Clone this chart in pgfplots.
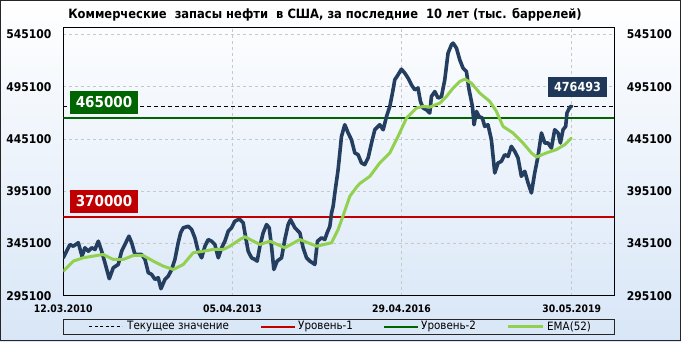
\documentclass[border=0pt]{standalone}
\usepackage{pgfplots}
\pgfplotsset{compat=1.18}
\usepackage{fontspec}
\setmainfont{DejaVu Sans}[FakeStretch=0.9]
\definecolor{navy}{RGB}{36,62,96}
\definecolor{emagreen}{RGB}{146,208,80}
\definecolor{lvlred}{RGB}{192,0,0}
\definecolor{lvlgreen}{RGB}{0,100,0}
\definecolor{bgblue}{RGB}{216,230,247}
\definecolor{boxnavy}{RGB}{31,56,90}
\definecolor{gridgray}{RGB}{200,200,200}

\pgfplotstableread{
w v
0 331400
6.3 344100
9.5 342500
14.2 345800
17.7 333000
20.5 341000
23.6 337700
26.9 341000
30.0 339400
33.1 347300
36.3 337700
39.4 326600
43.5 311400
47.3 321900
52.0 325000
55.2 337700
58.3 344100
62.1 352100
64.7 345800
67.8 334600
70.9 334600
74.1 334600
77.3 329800
80.4 317100
83.6 315500
86.7 310700
89.8 312300
92.4 301800
96.2 310700
99.3 313800
102.5 320200
105.6 329800
108.7 345800
111.0 355300
113.5 360100
118.2 361600
121.4 358500
124.5 350500
127.6 337700
130.9 331400
134.0 342500
137.1 348900
140.3 347300
143.4 344100
146.6 331400
149.8 341000
152.9 347300
156.0 356800
159.2 360100
162.3 366400
165.5 368000
167.1 368000
170.2 364900
171.8 355300
174.9 337700
178.1 331400
181.3 329800
183.4 328200
186.0 342500
189.1 355300
192.3 363200
194.8 360100
197.0 342500
199.2 320200
202.3 328200
206.5 331400
209.6 348900
212.7 363200
215.0 368000
219.1 360100
223.8 355300
226.9 341000
230.1 331400
233.3 328200
238.0 325000
240.5 347300
244.3 350500
247.4 348900
249.6 355300
252.2 361600
253.8 374400
255.3 380700
256.9 393500
260.0 415800
263.2 447600
266.3 458800
269.5 450900
272.6 444500
275.8 431800
278.9 430100
282.1 422200
285.2 420600
288.4 427000
291.6 441300
294.7 454000
299.4 458800
302.6 454000
305.8 466700
308.9 476300
311.4 489100
313.6 501800
316.7 506600
319.9 512000
323.1 508200
326.2 503400
329.4 497000
332.5 492300
335.6 493900
337.9 481100
340.4 474800
343.6 473100
346.7 470000
348.3 485900
351.5 490600
354.6 484300
357.8 485900
360.9 501800
364.0 527300
367.2 535300
368.8 536900
372.0 532100
375.1 520900
378.2 513000
381.4 509700
383.9 492300
387.1 476300
388.6 458800
390.9 471500
393.3 466700
396.5 465200
398.7 457200
401.8 458800
405.0 444500
408.2 412600
411.3 422200
414.5 423700
417.6 430100
420.8 428500
423.9 438100
427.1 433300
430.2 427000
433.4 409400
436.6 414200
439.7 403100
442.9 393500
446.0 412600
449.1 428500
452.4 450900
455.5 441300
458.6 441300
461.8 436500
464.9 454000
468.1 450900
470.3 441300
472.8 454000
475.3 457200
476.5 470000
479.1 475500
481 476493
}\stocks

\pgfplotstableread{
w v
0 318600
9.5 328200
18.9 331400
28.4 333000
37.8 334600
47.3 329800
56.7 329800
66.2 333600
75.6 333600
85.1 328200
94.6 323400
104.0 320200
113.5 325000
122.9 336200
132.4 337700
141.8 339400
151.3 339400
157.6 342500
167.1 348900
171.8 351500
186.0 344100
195.4 347300
209.6 341000
223.8 348900
239.6 342500
253.8 345800
260.0 358500
264.7 371600
271.1 390300
277.4 399000
280.5 402500
290.0 409400
299.4 422200
308.9 431800
316.7 447600
324.7 465200
334.2 474800
340.4 476300
346.7 475700
356.2 479500
362.5 485900
368.8 493900
375.1 500200
379.8 502500
386.2 498600
394.0 489100
403.5 481100
409.8 471500
416.0 457200
425.5 450900
434.9 441300
442.9 431800
447.6 427900
457.1 431800
466.5 435000
474.4 439700
480.7 446000
}\ema

\begin{document}
\begin{tikzpicture}
\shade[top color=white, bottom color=bgblue] (0pt,0pt) rectangle (681pt,-341pt);
\draw[black!85, line width=1pt] (0.5pt,-0.5pt) rectangle (680.5pt,-340.5pt);
\node[font=\bfseries\fontsize{12.8}{15}\selectfont] at (325pt,-15pt) {Коммерческие\ \ запасы нефти\ \ в США, за последние\ \ 10 лет (тыс. баррелей)};

\begin{axis}[
  at={(63.3pt,-295.7pt)}, anchor=south west,
  scale only axis, width=551pt, height=268pt,
  xmin=0, xmax=521.3, ymin=295100, ymax=551700,
  scaled y ticks=false, scaled x ticks=false,
  xtick={0,160,320,481},
  xticklabels={12.03.2010,05.04.2013,29.04.2016,30.05.2019},
  ytick={295100,345100,395100,445100,495100,545100},
  yticklabels={295100,345100,395100,445100,495100,545100},
  major tick length=0pt,
  grid=major,
  major grid style={gridgray, dashed, line width=0.7pt},
  axis line style={black, line width=1pt},
  xticklabel style={font=\bfseries\fontsize{10.3}{12}\selectfont, inner sep=0pt, anchor=north},
  yticklabel style={font=\bfseries\fontsize{12}{14}\selectfont, inner sep=0pt, anchor=east},
  xticklabel shift=8.5pt, yticklabel shift=11.6pt,
]
\addplot[black, dashed, dash pattern=on 4pt off 3pt, line width=1pt] coordinates {(0,476493) (521.3,476493)};
\addplot[lvlred, line width=2pt] coordinates {(0,370000) (521.3,370000)};
\addplot[lvlgreen, line width=2pt] coordinates {(0,465000) (521.3,465000)};
\addplot[navy, line width=3.6pt, line join=round, line cap=round] table[x=w,y=v] {\stocks};
\addplot[emagreen, line width=3pt, line join=round, line cap=round] table[x=w,y=v] {\ema};
\node[fill=lvlgreen, text=white, font=\bfseries\fontsize{15}{18}\selectfont, anchor=south west, inner xsep=6.3pt, inner ysep=0pt, minimum height=23pt] at (axis cs:5.7,465000) [yshift=4.4pt] {465000};
\node[fill=lvlred, text=white, font=\bfseries\fontsize{15}{18}\selectfont, anchor=south west, inner xsep=6.3pt, inner ysep=0pt, minimum height=23pt] at (axis cs:5.7,370000) [yshift=4.4pt] {370000};
\node[fill=boxnavy, text=white, font=\bfseries\fontsize{12.5}{15}\selectfont, inner xsep=5.7pt, inner ysep=0pt, minimum height=20pt] at (axis cs:486.5,476493) [yshift=19.3pt] {476493};
\end{axis}

\begin{axis}[
  at={(63.3pt,-295.7pt)}, anchor=south west,
  scale only axis, width=551pt, height=268pt,
  xmin=0, xmax=521.3, ymin=295100, ymax=551700,
  scaled y ticks=false,
  hide x axis, axis y line*=right, y axis line style={draw=none},
  ytick={295100,345100,395100,445100,495100,545100},
  yticklabels={295100,345100,395100,445100,495100,545100},
  major tick length=0pt,
  yticklabel style={font=\bfseries\fontsize{12}{14}\selectfont, inner sep=0pt, anchor=west},
  yticklabel shift=12.4pt,
]
\end{axis}

% legend
\draw[black!85, line width=1pt] (63.3pt,-319.3pt) rectangle (614.3pt,-334pt);
\begin{scope}[every node/.style={font=\fontsize{11.5}{13}\selectfont, anchor=west, inner sep=0pt}]
\draw[black, dash pattern=on 3pt off 2.5pt, line width=1pt] (89pt,-326.7pt) -- (122pt,-326.7pt);
\node at (127pt,-326.7pt) {Текущее значение};
\draw[lvlred, line width=2pt] (261pt,-326.7pt) -- (295pt,-326.7pt);
\node at (298pt,-326.7pt) {Уровень-1};
\draw[lvlgreen, line width=2pt] (384pt,-326.7pt) -- (418pt,-326.7pt);
\node at (421pt,-326.7pt) {Уровень-2};
\draw[emagreen, line width=3pt] (508pt,-326.7pt) -- (543pt,-326.7pt);
\node at (547pt,-326.7pt) {EMA(52)};
\end{scope}
\end{tikzpicture}
\end{document}
